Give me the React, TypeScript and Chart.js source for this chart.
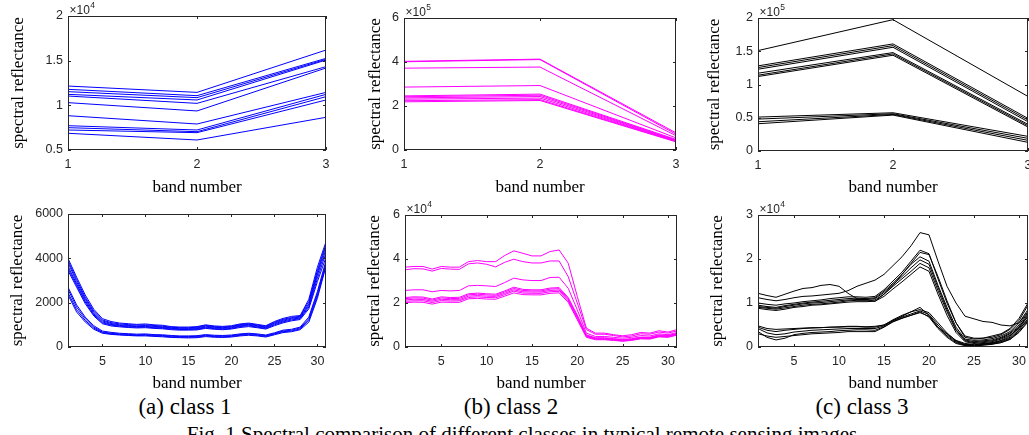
import React, { useEffect, useRef } from "react";
import { Chart, registerables } from "chart.js";

Chart.register(...registerables);
Chart.defaults.font.family = '"Liberation Sans", Arial, sans-serif';

// ---------- categories / ticks ----------
const bands3 = [1, 2, 3];
const bands31 = [1, 2, 3, 4, 5, 6, 7, 8, 9, 10, 11, 12, 13, 14, 15, 16, 17, 18, 19, 20, 21, 22, 23, 24, 25, 26, 27, 28, 29, 30, 31];
const xTicks3 = [1, 2, 3];
const xTicks31 = [5, 10, 15, 20, 25, 30];
const yTicksA1 = [0.5, 1, 1.5, 2];
const yTicksB1 = [0, 2, 4, 6];
const yTicksC1 = [0, 0.5, 1, 1.5, 2];
const yTicksA2 = [0, 2000, 4000, 6000];
const yTicksB2 = [0, 2, 4, 6];
const yTicksC2 = [0, 1, 2, 3];

// ---------- class 1, 3 bands (x10^4) ----------
const class1Bands3 = [
  [1.216, 1.145, 1.619],
  [1.179, 1.108, 1.526],
  [1.153, 1.086, 1.515],
  [1.123, 1.06, 1.507],
  [1.104, 1.022, 1.433],
  [1.03, 0.937, 1.418],
  [0.884, 0.791, 1.145],
  [0.772, 0.724, 1.123],
  [0.75, 0.705, 1.097],
  [0.724, 0.694, 1.06],
  [0.687, 0.612, 0.866],
];

// ---------- class 2, 3 bands (x10^5) ----------
const class2Bands3 = [
  [4.03, 4.13, 0.78],
  [4.01, 4.11, 0.72],
  [3.72, 3.77, 0.65],
  [2.86, 2.93, 0.55],
  [2.46, 2.54, 0.48],
  [2.42, 2.49, 0.45],
  [2.37, 2.43, 0.43],
  [2.31, 2.36, 0.41],
  [2.24, 2.29, 0.39],
  [2.19, 2.25, 0.37],
];

// ---------- class 3, 3 bands (x10^5) ----------
const class3Bands3 = [
  [1.51, 1.975, 0.82],
  [1.28, 1.61, 0.49],
  [1.255, 1.585, 0.465],
  [1.23, 1.56, 0.44],
  [1.17, 1.48, 0.4],
  [1.14, 1.46, 0.38],
  [1.12, 1.44, 0.36],
  [0.51, 0.575, 0.22],
  [0.48, 0.56, 0.19],
  [0.44, 0.55, 0.16],
  [0.41, 0.54, 0.13],
];

// ---------- class 1, 31 bands ----------
const class1Bands31 = [
  [4000, 3150, 2350, 1700, 1280, 1150, 1080, 1050, 1020, 1040, 1000, 980, 920, 900, 900, 920, 1000, 950, 930, 960, 1040, 1080, 1020, 960, 1150, 1290, 1380, 1420, 2150, 3600, 4750],
  [3900, 3050, 2250, 1620, 1220, 1100, 1040, 1010, 990, 1000, 970, 940, 890, 870, 870, 890, 970, 920, 900, 930, 1010, 1050, 990, 930, 1110, 1250, 1330, 1390, 2050, 3450, 4650],
  [3800, 2950, 2180, 1560, 1180, 1060, 1000, 970, 950, 970, 930, 910, 860, 850, 840, 860, 940, 890, 870, 900, 980, 1020, 960, 900, 1080, 1210, 1300, 1350, 1950, 3350, 4550],
  [3650, 2850, 2100, 1500, 1130, 1020, 970, 940, 920, 930, 900, 880, 840, 820, 810, 830, 900, 860, 840, 870, 950, 990, 930, 870, 1040, 1170, 1260, 1310, 1880, 3250, 4400],
  [3550, 2780, 2030, 1450, 1090, 990, 940, 910, 890, 900, 870, 850, 810, 790, 790, 800, 870, 830, 810, 840, 920, 960, 900, 840, 1000, 1130, 1220, 1280, 1800, 3100, 4250],
  [3450, 2700, 1960, 1400, 1050, 950, 910, 880, 860, 870, 840, 820, 780, 760, 760, 770, 840, 800, 780, 810, 880, 920, 870, 810, 960, 1090, 1180, 1240, 1720, 2950, 4050],
  [2700, 1900, 1350, 960, 720, 660, 620, 600, 580, 590, 560, 550, 520, 500, 500, 510, 560, 530, 520, 540, 590, 620, 590, 540, 640, 760, 800, 900, 1350, 2500, 3900],
  [2600, 1800, 1280, 900, 680, 620, 590, 570, 550, 560, 530, 520, 490, 470, 470, 480, 530, 500, 490, 510, 560, 590, 560, 510, 610, 720, 760, 860, 1280, 2400, 3800],
  [2450, 1680, 1200, 850, 650, 590, 560, 540, 520, 530, 500, 490, 460, 440, 440, 450, 500, 470, 460, 480, 530, 560, 530, 480, 580, 690, 720, 820, 1200, 2300, 3700],
  [2350, 1580, 1130, 800, 620, 570, 540, 520, 500, 500, 480, 460, 430, 420, 410, 420, 470, 440, 430, 450, 500, 530, 500, 450, 550, 650, 690, 780, 1120, 2200, 3650],
];

// ---------- class 2, 31 bands (x10^4) ----------
const class2Bands31 = [
  [3.63, 3.66, 3.66, 3.54, 3.66, 3.63, 3.63, 3.88, 3.93, 3.88, 3.88, 4.16, 4.37, 4.26, 4.14, 4.14, 4.34, 4.41, 3.81, 2.3, 0.86, 0.63, 0.63, 0.56, 0.51, 0.56, 0.66, 0.63, 0.74, 0.68, 0.79],
  [3.51, 3.56, 3.55, 3.45, 3.57, 3.54, 3.53, 3.78, 3.82, 3.76, 3.64, 3.85, 3.99, 3.88, 3.82, 3.82, 3.91, 3.91, 3.2, 2.0, 0.79, 0.58, 0.58, 0.52, 0.46, 0.5, 0.6, 0.58, 0.68, 0.63, 0.73],
  [2.57, 2.6, 2.6, 2.51, 2.57, 2.55, 2.57, 2.78, 2.8, 2.78, 2.75, 2.93, 3.13, 3.05, 3.02, 3.02, 3.16, 3.17, 2.67, 1.69, 0.63, 0.48, 0.48, 0.44, 0.4, 0.44, 0.52, 0.5, 0.6, 0.56, 0.66],
  [2.25, 2.28, 2.27, 2.18, 2.28, 2.25, 2.26, 2.42, 2.45, 2.42, 2.4, 2.55, 2.72, 2.62, 2.6, 2.6, 2.68, 2.7, 2.25, 1.45, 0.55, 0.42, 0.42, 0.38, 0.34, 0.38, 0.45, 0.44, 0.55, 0.52, 0.62],
  [2.2, 2.23, 2.22, 2.13, 2.23, 2.2, 2.21, 2.37, 2.4, 2.37, 2.35, 2.5, 2.66, 2.57, 2.55, 2.55, 2.63, 2.65, 2.2, 1.4, 0.52, 0.4, 0.4, 0.36, 0.32, 0.36, 0.43, 0.42, 0.52, 0.5, 0.6],
  [2.14, 2.17, 2.16, 2.08, 2.17, 2.15, 2.15, 2.31, 2.34, 2.31, 2.3, 2.44, 2.6, 2.51, 2.5, 2.5, 2.57, 2.59, 2.15, 1.35, 0.5, 0.38, 0.37, 0.34, 0.3, 0.34, 0.41, 0.4, 0.5, 0.48, 0.58],
  [2.08, 2.1, 2.1, 2.02, 2.11, 2.09, 2.1, 2.25, 2.28, 2.25, 2.24, 2.38, 2.54, 2.45, 2.44, 2.44, 2.51, 2.53, 2.1, 1.3, 0.47, 0.36, 0.35, 0.32, 0.28, 0.32, 0.39, 0.38, 0.48, 0.46, 0.56],
  [2.02, 2.04, 2.03, 1.95, 2.04, 2.03, 2.03, 2.19, 2.21, 2.18, 2.17, 2.31, 2.46, 2.38, 2.37, 2.37, 2.44, 2.46, 2.03, 1.24, 0.44, 0.33, 0.33, 0.3, 0.26, 0.3, 0.37, 0.36, 0.46, 0.44, 0.54],
];

// ---------- class 3, 31 bands (x10^4) ----------
const class3Bands31 = [
  [1.22, 1.17, 1.13, 1.2, 1.27, 1.33, 1.35, 1.4, 1.42, 1.38, 1.22, 1.1, 1.08, 1.04, 1.2, 1.4, 1.65, 1.9, 2.15, 2.1, 1.6, 1.05, 0.55, 0.22, 0.18, 0.2, 0.25, 0.3, 0.42, 0.65, 1.0],
  [1.12, 1.08, 1.05, 1.08, 1.12, 1.15, 1.16, 1.18, 1.2, 1.22, 1.28, 1.38, 1.45, 1.52, 1.65, 1.85, 2.05, 2.3, 2.6, 2.55, 1.95, 1.38, 1.0, 0.7, 0.64, 0.58, 0.56, 0.5, 0.48, 0.55, 0.8],
  [1.0, 0.97, 0.95, 0.98, 1.0, 1.03, 1.05, 1.07, 1.1, 1.12, 1.14, 1.14, 1.13, 1.15, 1.3, 1.5, 1.7, 1.95, 2.2, 2.12, 1.55, 1.0, 0.55, 0.25, 0.2, 0.2, 0.22, 0.28, 0.4, 0.6, 0.95],
  [0.95, 0.92, 0.9, 0.94, 0.97, 1.0, 1.02, 1.04, 1.06, 1.08, 1.1, 1.11, 1.1, 1.12, 1.27, 1.45, 1.65, 1.88, 2.05, 1.95, 1.4, 0.9, 0.45, 0.18, 0.15, 0.16, 0.19, 0.25, 0.35, 0.55, 0.85],
  [0.92, 0.9, 0.88, 0.92, 0.95, 0.98, 1.0, 1.01, 1.03, 1.05, 1.07, 1.08, 1.08, 1.1, 1.24, 1.42, 1.6, 1.8, 1.98, 1.88, 1.35, 0.85, 0.4, 0.16, 0.12, 0.14, 0.16, 0.22, 0.32, 0.5, 0.78],
  [0.9, 0.88, 0.86, 0.89, 0.92, 0.95, 0.97, 0.98, 1.0, 1.02, 1.05, 1.06, 1.06, 1.07, 1.2, 1.38, 1.55, 1.72, 1.9, 1.8, 1.28, 0.8, 0.38, 0.14, 0.1, 0.12, 0.14, 0.2, 0.3, 0.46, 0.7],
  [0.88, 0.85, 0.83, 0.86, 0.9, 0.92, 0.95, 0.96, 0.98, 1.0, 1.02, 1.03, 1.03, 1.04, 1.15, 1.32, 1.48, 1.65, 1.82, 1.72, 1.2, 0.72, 0.33, 0.12, 0.08, 0.1, 0.12, 0.18, 0.27, 0.42, 0.62],
  [0.45, 0.38, 0.35, 0.38, 0.4, 0.42, 0.43, 0.44, 0.45, 0.46, 0.47, 0.47, 0.46, 0.47, 0.5, 0.6, 0.7, 0.8, 0.9, 0.72, 0.45, 0.3, 0.15, 0.08, 0.06, 0.08, 0.1, 0.15, 0.25, 0.45, 0.75],
  [0.48, 0.42, 0.4, 0.41, 0.42, 0.43, 0.44, 0.44, 0.45, 0.45, 0.46, 0.46, 0.45, 0.45, 0.5, 0.62, 0.72, 0.8, 0.85, 0.78, 0.55, 0.32, 0.14, 0.06, 0.05, 0.07, 0.09, 0.14, 0.22, 0.42, 0.7],
  [0.42, 0.32, 0.28, 0.3, 0.34, 0.36, 0.38, 0.39, 0.4, 0.41, 0.42, 0.42, 0.42, 0.42, 0.48, 0.6, 0.68, 0.75, 0.82, 0.74, 0.5, 0.28, 0.12, 0.05, 0.04, 0.06, 0.08, 0.12, 0.2, 0.38, 0.65],
  [0.35, 0.22, 0.16, 0.2, 0.28, 0.31, 0.33, 0.34, 0.35, 0.37, 0.38, 0.39, 0.39, 0.38, 0.46, 0.58, 0.66, 0.72, 0.78, 0.7, 0.45, 0.25, 0.1, 0.04, 0.03, 0.05, 0.07, 0.1, 0.18, 0.35, 0.6],
  [0.3, 0.25, 0.22, 0.24, 0.26, 0.28, 0.3, 0.31, 0.32, 0.33, 0.35, 0.35, 0.35, 0.35, 0.45, 0.57, 0.65, 0.72, 0.8, 0.68, 0.42, 0.22, 0.08, 0.03, 0.02, 0.04, 0.06, 0.1, 0.17, 0.33, 0.57],
];

const yLabel = "spectral reflectance";
const xLabel = "band number";
const captions = ["(a) class 1", "(b) class 2", "(c) class 3"];
const figCaption = "Fig. 1 Spectral comparison of different classes in typical remote sensing images";

// ---------- layout (plot box in page pixels) ----------
type PanelCfg = {
  l: number; t: number; r: number; b: number;
  yTitleX: number; xTitleY: number;
  exponent: string;
  color: string;
  bands: number[];
  series: number[][];
  xMin: number; xMax: number; xTicks: number[];
  yMin: number; yMax: number; yTicks: number[];
};

const panels: PanelCfg[] = [
  { l: 68, t: 16, r: 326, b: 150, yTitleX: 18.5, xTitleY: 187.5, exponent: "4", color: "#0000ff", bands: bands3, series: class1Bands3, xMin: 1, xMax: 3, xTicks: xTicks3, yMin: 0.5, yMax: 2, yTicks: yTicksA1 },
  { l: 404, t: 18, r: 676, b: 150, yTitleX: 375, xTitleY: 187.5, exponent: "5", color: "#ff00ff", bands: bands3, series: class2Bands3, xMin: 1, xMax: 3, xTicks: xTicks3, yMin: 0, yMax: 6, yTicks: yTicksB1 },
  { l: 758, t: 18, r: 1028, b: 151, yTitleX: 714, xTitleY: 187.5, exponent: "5", color: "#000000", bands: bands3, series: class3Bands3, xMin: 1, xMax: 3, xTicks: xTicks3, yMin: 0, yMax: 2, yTicks: yTicksC1 },
  { l: 68, t: 214, r: 326, b: 347, yTitleX: 17.5, xTitleY: 384, exponent: "", color: "#0000ff", bands: bands31, series: class1Bands31, xMin: 1, xMax: 31, xTicks: xTicks31, yMin: 0, yMax: 6000, yTicks: yTicksA2 },
  { l: 405, t: 215, r: 677, b: 347, yTitleX: 374.5, xTitleY: 384, exponent: "4", color: "#ff00ff", bands: bands31, series: class2Bands31, xMin: 1, xMax: 31, xTicks: xTicks31, yMin: 0, yMax: 6, yTicks: yTicksB2 },
  { l: 758, t: 215, r: 1028, b: 347, yTitleX: 717.5, xTitleY: 384, exponent: "4", color: "#000000", bands: bands31, series: class3Bands31, xMin: 1, xMax: 31, xTicks: xTicks31, yMin: 0, yMax: 3, yTicks: yTicksC2 },
];

const AXIS_COLOR = "#262626";
const TITLE_FONT = { family: '"Liberation Serif", "Times New Roman", serif', size: 17 };
const TICK_FONT = { family: '"Liberation Sans", Arial, sans-serif', size: 12.5 };
const TITLE_LH = 17 * 1.2;

const matlabBox = {
  id: "matlabBox",
  afterDatasetsDraw(chart: any, _args: any, opts: any) {
    const { ctx, chartArea } = chart;
    const { left, top, right, bottom } = chartArea;
    const xs = chart.scales.x;
    const ys = chart.scales.y;
    const tl = 3;
    ctx.save();
    ctx.strokeStyle = AXIS_COLOR;
    ctx.lineWidth = 1;
    ctx.beginPath();
    xs.ticks.forEach((t: any) => {
      const px = Math.round(xs.getPixelForValue(t.value)) + 0.5;
      ctx.moveTo(px, bottom);
      ctx.lineTo(px, bottom - tl);
      ctx.moveTo(px, top);
      ctx.lineTo(px, top + tl);
    });
    ys.ticks.forEach((t: any) => {
      const py = Math.round(ys.getPixelForValue(t.value)) + 0.5;
      ctx.moveTo(left, py);
      ctx.lineTo(left + tl, py);
      ctx.moveTo(right, py);
      ctx.lineTo(right - tl, py);
    });
    ctx.stroke();
    ctx.strokeRect(Math.round(left) + 0.5, Math.round(top) + 0.5, Math.round(right - left) - 1, Math.round(bottom - top) - 1);
    if (opts && opts.exponent) {
      ctx.fillStyle = AXIS_COLOR;
      ctx.textAlign = "left";
      ctx.textBaseline = "alphabetic";
      ctx.font = '12px "Liberation Sans", Arial, sans-serif';
      const tx = left + 1.5;
      const ty = top - 2.5;
      ctx.fillText("\u00d710", tx, ty);
      const w = ctx.measureText("\u00d710").width;
      ctx.font = '8.5px "Liberation Sans", Arial, sans-serif';
      ctx.fillText(opts.exponent, tx + w + 0.5, ty - 5.5);
    }
    ctx.restore();
  },
};

function Panel({ cfg }: { cfg: PanelCfg }) {
  const ref = useRef<HTMLCanvasElement>(null);
  const canvasLeft = Math.round(cfg.yTitleX - TITLE_LH / 2);
  const canvasTop = cfg.t < 100 ? 0 : 198;
  const canvasRight = cfg.r + 12;
  const canvasBottom = Math.round(cfg.xTitleY + TITLE_LH / 2);
  const w = canvasRight - canvasLeft;
  const h = canvasBottom - canvasTop;
  const yAxisW = cfg.l - canvasLeft;
  const xAxisH = canvasBottom - cfg.b;
  const topPad = cfg.t - canvasTop;

  useEffect(() => {
    if (!ref.current) return;
    const chart = new Chart(ref.current, {
      type: "line",
      data: {
        datasets: cfg.series.map((s) => ({
          data: s.map((v, i) => ({ x: cfg.bands[i], y: v })),
          borderColor: cfg.color,
          backgroundColor: cfg.color,
          borderWidth: 1,
          pointRadius: 0,
          fill: false,
          tension: 0,
        })),
      },
      options: {
        animation: false,
        responsive: false,
        maintainAspectRatio: false,
        layout: { padding: { left: 0, top: topPad, right: 12, bottom: 0 } },
        plugins: {
          legend: { display: false },
          tooltip: { enabled: false },
          matlabBox: { exponent: cfg.exponent },
        } as any,
        scales: {
          x: {
            type: "linear",
            min: cfg.xMin,
            max: cfg.xMax,
            afterBuildTicks: (s: any) => {
              s.ticks = cfg.xTicks.map((v) => ({ value: v }));
            },
            afterFit: (s: any) => {
              s.height = xAxisH;
            },
            ticks: {
              autoSkip: false,
              maxRotation: 0,
              padding: 7,
              color: AXIS_COLOR,
              font: TICK_FONT,
              callback: (v: any) => String(v),
            },
            grid: { display: false, drawTicks: false },
            border: { display: false },
            title: { display: true, text: xLabel, color: "#000", font: TITLE_FONT, padding: 0 },
          },
          y: {
            type: "linear",
            min: cfg.yMin,
            max: cfg.yMax,
            afterBuildTicks: (s: any) => {
              s.ticks = cfg.yTicks.map((v) => ({ value: v }));
            },
            afterFit: (s: any) => {
              s.width = yAxisW;
            },
            ticks: {
              autoSkip: false,
              padding: 5,
              color: AXIS_COLOR,
              font: TICK_FONT,
              callback: (v: any) => String(v),
            },
            grid: { display: false, drawTicks: false },
            border: { display: false },
            title: { display: true, text: yLabel, color: "#000", font: TITLE_FONT, padding: 0 },
          },
        },
      } as any,
      plugins: [matlabBox],
    });
    return () => chart.destroy();
  }, []);

  return (
    <canvas
      ref={ref}
      width={w}
      height={h}
      style={{ position: "absolute", left: canvasLeft, top: canvasTop, width: w, height: h }}
    />
  );
}

const captionCenters = [185, 511, 862];

export default function App() {
  return (
    <div
      style={{
        position: "absolute",
        left: 0,
        top: 0,
        width: 1029,
        height: 435,
        overflow: "hidden",
        background: "#ffffff",
      }}
    >
      {panels.map((p, i) => (
        <Panel key={i} cfg={p} />
      ))}
      {captions.map((c, i) => (
        <div
          key={c}
          style={{
            position: "absolute",
            left: captionCenters[i] - 100,
            width: 200,
            top: 395,
            textAlign: "center",
            fontFamily: '"Liberation Serif", "Times New Roman", serif',
            fontSize: 23,
            lineHeight: "23px",
            color: "#000",
            whiteSpace: "nowrap",
          }}
        >
          {c}
        </div>
      ))}
      <div
        style={{
          position: "absolute",
          left: 0,
          width: 1044,
          top: 424,
          textAlign: "center",
          fontFamily: '"Liberation Serif", "Times New Roman", serif',
          fontSize: 21,
          lineHeight: "21px",
          color: "#000",
          whiteSpace: "nowrap",
        }}
      >
        {figCaption}
      </div>
    </div>
  );
}
